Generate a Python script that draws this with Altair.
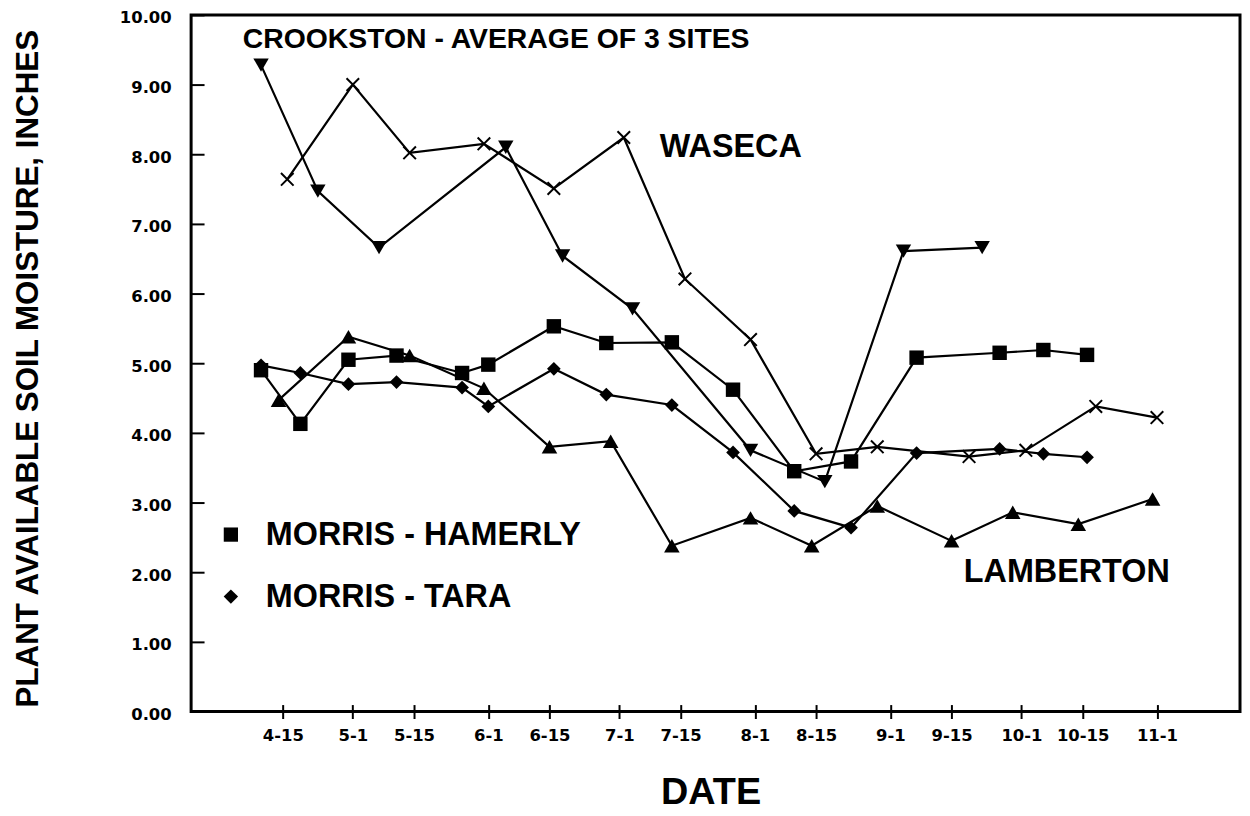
import altair as alt
import pandas as pd

# ---- data (month-day, inches) ----
hamerly_dates = ["04-10", "04-19", "04-30", "05-11", "05-26", "06-01", "06-16", "06-28",
                 "07-13", "07-27", "08-10", "08-23", "09-07", "09-26", "10-06", "10-16"]
hamerly_vals = [4.90, 4.13, 5.05, 5.11, 4.86, 4.98, 5.53, 5.29,
                5.30, 4.62, 3.45, 3.59, 5.08, 5.15, 5.19, 5.12]

tara_dates = ["04-10", "04-19", "04-30", "05-11", "05-26", "06-01", "06-16", "06-28",
              "07-13", "07-27", "08-10", "08-23", "09-07", "09-26", "10-06", "10-16"]
tara_vals = [4.97, 4.86, 4.70, 4.73, 4.65, 4.38, 4.92, 4.55,
             4.40, 3.72, 2.88, 2.64, 3.71, 3.77, 3.70, 3.65]

crookston_dates = ["04-10", "04-23", "05-07", "06-05", "06-18", "07-04", "07-31",
                   "08-17", "09-04", "09-22"]
crookston_vals = [9.28, 7.47, 6.66, 8.10, 6.54, 5.78, 3.75, 3.30, 6.61, 6.66]

waseca_dates = ["04-16", "05-01", "05-14", "05-31", "06-16", "07-02", "07-16", "07-31",
                "08-15", "08-29", "09-19", "10-02", "10-18", "11-01"]
waseca_vals = [7.64, 9.00, 8.02, 8.15, 7.51, 8.24, 6.21, 5.34,
               3.70, 3.80, 3.66, 3.75, 4.38, 4.22]

lamberton_dates = ["04-14", "04-30", "05-14", "05-31", "06-15", "06-29", "07-13", "07-31",
                   "08-14", "08-29", "09-15", "09-29", "10-14", "10-31"]
lamberton_vals = [4.47, 5.38, 5.11, 4.64, 3.80, 3.88, 2.38, 2.78,
                  2.38, 2.95, 2.45, 2.86, 2.69, 3.05]

tick_dates = ["04-15", "05-01", "05-15", "06-01", "06-15", "07-01", "07-15",
              "08-01", "08-15", "09-01", "09-15", "10-01", "10-15", "11-01"]
tick_labels = ["4-15", "5-1", "5-15", "6-1", "6-15", "7-1", "7-15",
               "8-1", "8-15", "9-1", "9-15", "10-1", "10-15", "11-1"]


def doy(md):
    return int(pd.Timestamp("2001-" + md).dayofyear)


series = {
    "MORRIS - HAMERLY": (hamerly_dates, hamerly_vals),
    "MORRIS - TARA": (tara_dates, tara_vals),
    "CROOKSTON": (crookston_dates, crookston_vals),
    "WASECA": (waseca_dates, waseca_vals),
    "LAMBERTON": (lamberton_dates, lamberton_vals),
}
rows = []
for name, (ds, vs) in series.items():
    for d, v in zip(ds, vs):
        rows.append({"series": name, "doy": doy(d), "val": v})
df = pd.DataFrame(rows)

tick_doys = [doy(d) for d in tick_dates]
label_expr = "[" + ",".join("'%s'" % t for t in tick_labels) + "][indexof([" + \
    ",".join(str(t) for t in tick_doys) + "], datum.value)]"

BOLD = "Liberation Sans"
TICKF = "DejaVu Sans"

x_enc = alt.X(
    "doy:Q",
    scale=alt.Scale(domain=[84, 324], nice=False, zero=False),
    axis=alt.Axis(
        values=tick_doys, labelExpr=label_expr, tickSize=14, offset=-7, domain=False,
        grid=False, tickColor="black", tickWidth=2, labelFont=TICKF, labelFontWeight="bold",
        labelFontSize=16.5, labelColor="black", labelPadding=9,
        title="DATE", titleFont=BOLD, titleFontSize=38, titleFontWeight="bold",
        titleColor="black", titleX=522, titleY=99, titleBaseline="alphabetic",
    ),
)
y_enc = alt.Y(
    "val:Q",
    scale=alt.Scale(domain=[0, 10], nice=False, zero=True),
    axis=alt.Axis(
        values=list(range(11)), format=".2f", tickSize=13, offset=-13, domain=False,
        grid=False, tickColor="black", tickWidth=2, labelFont=TICKF, labelFontWeight="bold",
        labelFontSize=16.5, labelColor="black", labelPadding=20, labelOffset=3,
        title="PLANT AVAILABLE SOIL MOISTURE, INCHES", titleFont=BOLD, titleFontSize=31.5,
        titleFontWeight="bold", titleColor="black", titleX=-167, titleY=355,
        titleBaseline="alphabetic", titleAngle=270,
    ),
)

base = alt.Chart(df)
lines = base.mark_line(color="black", strokeWidth=2.2).encode(
    x=x_enc, y=y_enc, detail="series:N", order="doy:Q"
)

XPATH = "M-1,-1L1,1M-1,1L1,-1"
marker_style = {
    "MORRIS - HAMERLY": dict(shape="square", size=210, filled=True),
    "MORRIS - TARA": dict(shape="diamond", size=190, filled=True),
    "CROOKSTON": dict(shape="triangle-down", size=240, filled=True),
    "WASECA": dict(shape=XPATH, size=160, filled=False),
    "LAMBERTON": dict(shape="triangle-up", size=245, filled=True),
}
layers = [lines]
for name, st in marker_style.items():
    if st["filled"]:
        m = base.mark_point(shape=st["shape"], size=st["size"], filled=True,
                            fill="black", opacity=1, strokeWidth=0)
    else:
        m = base.mark_point(shape=st["shape"], size=st["size"], filled=False,
                            stroke="black", strokeWidth=2, opacity=1)
    layers.append(m.encode(x="doy:Q", y="val:Q").transform_filter(
        alt.datum.series == name))

one = pd.DataFrame({"k": [0]})


def label(text, xd, yd, size):
    return alt.Chart(one).mark_text(
        text=text, font=BOLD, fontWeight="bold", fontSize=size, color="black",
        align="left", baseline="alphabetic"
    ).encode(x=alt.datum(xd), y=alt.datum(yd))


layers += [
    label("CROOKSTON - AVERAGE OF 3 SITES", 95.8, 9.52, 28.5),
    label("WASECA", 191.25, 7.96, 32.5),
    label("LAMBERTON", 260.8, 1.86, 32.5),
    label("MORRIS - HAMERLY", 101.1, 2.39, 32.5),
    label("MORRIS - TARA", 101.1, 1.50, 32.5),
    alt.Chart(one).mark_point(shape="square", size=205, filled=True, fill="black",
                              opacity=1, strokeWidth=0).encode(
        x=alt.datum(93.1), y=alt.datum(2.54)),
    alt.Chart(one).mark_point(shape="diamond", size=210, filled=True, fill="black",
                              opacity=1, strokeWidth=0).encode(
        x=alt.datum(93.1), y=alt.datum(1.65)),
]

chart = alt.layer(*layers).properties(
    width=1054, height=700,
    autosize=alt.AutoSizeParams(type="none"),
    padding={"left": 184, "top": 5, "right": 2, "bottom": 100},
    background="white",
).configure_view(stroke="black", strokeWidth=3)

chart.save("out.html", embed_options={"renderer": "svg", "actions": False})
